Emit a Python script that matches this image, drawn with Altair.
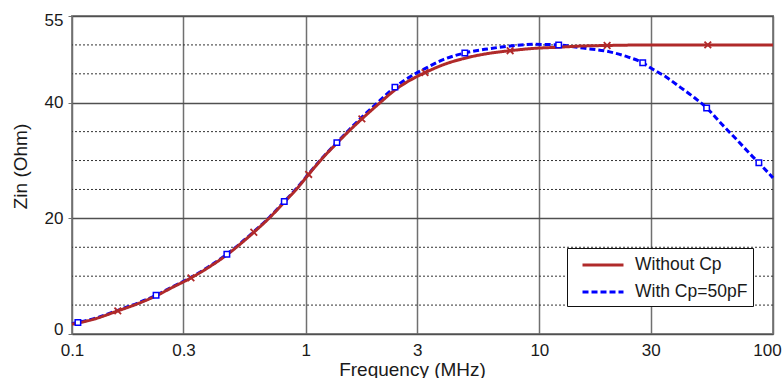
import altair as alt
import pandas as pd

# Input impedance vs. frequency, plain source (no parasitic capacitance)
freq_plain = [0.1, 0.125, 0.157, 0.19, 0.229, 0.27, 0.323, 0.38, 0.46, 0.53,
              0.6, 0.7, 0.81, 0.92, 1.03, 1.18, 1.36, 1.55, 1.74, 2.08,
              2.41, 2.8, 3.24, 3.9, 4.8, 6.0, 7.5, 9.5, 12.1, 15,
              19.5, 30, 52.6, 100]
zin_plain = [1.7, 2.6, 4.0, 5.2, 6.6, 8.1, 9.7, 11.4, 13.7, 15.7,
             17.6, 20.1, 22.8, 25.2, 27.6, 30.4, 33.0, 35.3, 37.2, 40.0,
             42.2, 43.9, 45.2, 46.6, 47.7, 48.5, 49.0, 49.4, 49.6, 49.8,
             49.9, 50.0, 50.0, 50.0]

# Same source with a 50 pF parasitic capacitance
freq_cp = [0.1, 0.106, 0.125, 0.157, 0.19, 0.229, 0.27, 0.323, 0.38, 0.46,
           0.53, 0.6, 0.7, 0.81, 0.92, 1.03, 1.18, 1.36, 1.55, 1.74,
           2.08, 2.41, 2.8, 3.24, 3.9, 4.8, 6.0, 7.5, 9.5, 12.1,
           15, 20, 24, 27.7, 30, 35, 40, 46, 52, 60,
           70, 80, 87, 100]
zin_cp = [1.8, 2.0, 2.7, 4.1, 5.3, 6.7, 8.2, 9.8, 11.5, 13.8,
          15.8, 17.7, 20.2, 22.9, 25.3, 27.7, 30.5, 33.1, 35.5, 37.5,
          40.4, 42.7, 44.5, 45.9, 47.5, 48.6, 49.3, 49.8, 50.1, 50.0,
          49.5, 48.8, 47.9, 46.9, 46.0, 44.4, 42.7, 40.9, 39.1, 36.4,
          33.6, 31.1, 29.6, 27.0]

# Sample points that carry a marker on each trace
marks_plain = [0.157, 0.323, 0.6, 1.03, 1.74, 3.24, 7.5, 19.5, 52.6]
marks_cp = [0.106, 0.229, 0.46, 0.81, 1.36, 2.41, 4.8, 12.1, 27.7, 52, 87]

series_names = ["Without Cp", "With Cp=50pF"]
x_ticks = [0.1, 0.3, 1, 3, 10, 30, 100]
y_ticks = [0, 20, 40, 55]
y_minor = [5, 10, 15, 25, 30, 35, 45, 50]

RED = "#B02A2A"
BLUE = "#0000FF"
FONT = "Liberation Sans"

df = pd.concat([
    pd.DataFrame({"f": freq_plain, "z": zin_plain, "series": series_names[0],
                  "marker": [f in marks_plain for f in freq_plain]}),
    pd.DataFrame({"f": freq_cp, "z": zin_cp, "series": series_names[1],
                  "marker": [f in marks_cp for f in freq_cp]}),
], ignore_index=True)
grid_df = pd.DataFrame({"level": y_minor})

x_scale = alt.Scale(type="log", domain=[0.1, 100])
y_scale = alt.Scale(domain=[0, 55], nice=False, zero=False)

x_axis = alt.Axis(
    values=x_ticks, format="~g", title="Frequency (MHz)",
    grid=True, gridColor="#707070", gridWidth=1.5,
    ticks=False, domain=False, labelFlush=False, labelPadding=8,
    labelOffset={"condition": {"test": "datum.value == 100", "value": -6}, "value": 0},
    titleX=340, titleY=35, titleBaseline="middle", titleAnchor="start",
    titleAlign="center",
)
y_axis = alt.Axis(
    values=y_ticks, title="Zin (Ohm)",
    grid=True, gridColor="#505050", gridWidth=1.5,
    tickSize=4, tickColor="#707070", domain=False, labelPadding=5,
    labelFlush=True, labelFlushOffset=4,
    titleX=-52, titleY=150, titleBaseline="middle", titleAlign="center",
    titleAnchor="start",
)

# dotted minor grid every 5 Ohm
minor = alt.Chart(grid_df).mark_rule(
    color="#333333", strokeWidth=1, strokeDash=[2, 2]
).encode(y=alt.Y("level:Q", scale=y_scale, axis=y_axis, title="Zin (Ohm)"))

legend = alt.Legend(title=None, orient="none", legendX=495, legendY=232)
color_enc = alt.Color(
    "series:N",
    scale=alt.Scale(domain=series_names, range=[RED, BLUE]),
    legend=legend,
)
dash_enc = alt.StrokeDash(
    "series:N",
    scale=alt.Scale(domain=series_names, range=[[1, 0], [6, 3]]),
    legend=legend,
)

base = alt.Chart(df).encode(
    x=alt.X("f:Q", scale=x_scale, axis=x_axis),
    y=alt.Y("z:Q", scale=y_scale, axis=y_axis, title="Zin (Ohm)"),
    order="f:Q",
)

line_cp = base.transform_filter(alt.datum.series == series_names[1]).mark_line(
    strokeWidth=3, interpolate="monotone"
).encode(color=color_enc, strokeDash=dash_enc)
line_plain = base.transform_filter(alt.datum.series == series_names[0]).mark_line(
    strokeWidth=3, interpolate="monotone"
).encode(color=color_enc, strokeDash=dash_enc)

pts_cp = base.transform_filter(
    (alt.datum.series == series_names[1]) & alt.datum.marker
).mark_point(shape="square", filled=False, fill="white", fillOpacity=1,
             stroke=BLUE, strokeWidth=1.5, size=30, opacity=1)
pts_plain = base.transform_filter(
    (alt.datum.series == series_names[0]) & alt.datum.marker
).mark_point(shape="M-1,-1L1,1M1,-1L-1,1", filled=False, stroke=RED,
             strokeWidth=1.8, size=44, opacity=1)

chart = alt.layer(minor, line_cp, line_plain, pts_cp, pts_plain).properties(
    width=701, height=318,
    autosize=alt.AutoSizeParams(type="none"),
    padding={"left": 72, "top": 16, "right": 10, "bottom": 44},
    background="white",
).configure_view(
    stroke="#8A8A8A", strokeWidth=2
).configure_axis(
    labelFont=FONT, labelFontSize=17, labelColor="#1a1a1a",
    titleFont=FONT, titleFontSize=19, titleColor="#1a1a1a", titleFontWeight="normal",
).configure_legend(
    labelFont=FONT, labelFontSize=17.5, labelColor="#1a1a1a",
    symbolType="M-2,0H2", symbolSize=420, symbolStrokeWidth=3, symbolOffset=19,
    strokeColor="#111111", fillColor="white", padding=5,
    rowPadding=6, labelOffset=20, cornerRadius=0,
)

chart.save("out.html", embed_options={"renderer": "svg", "actions": False})
